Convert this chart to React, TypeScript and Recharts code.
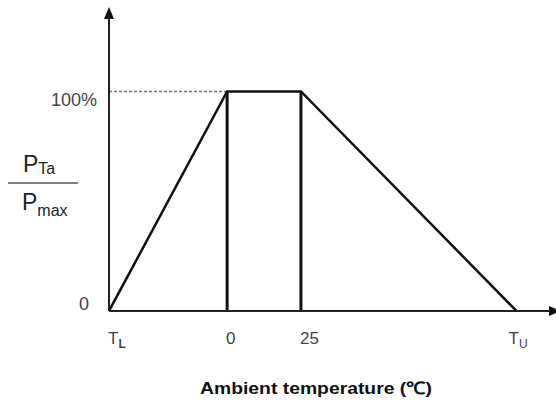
import { LineChart, Line, XAxis, YAxis, ReferenceLine } from 'recharts';

// derating curve (ambient temperature vs P_Ta / P_max, %)
const tempTicks = [-40, 0, 25, 98];
const tempLabels = ['T:L', '0', '25', 'T:U'];
const ratioTicks = [0, 100];
const ratioLabels = ['0', '100%'];
const curveTemp = [-40, 0, 25, 98];
const curveRatio = [0, 100, 100, 0];

const data = curveTemp.map((t, i) => ({ t, r: curveRatio[i] }));

const FONT = '"Liberation Sans", Arial, sans-serif';
const TICK_COLOR = '#444';
const INK = '#111';

const XTick = (props: any) => {
  const { x, y, payload, index } = props;
  const label = tempLabels[tempTicks.indexOf(payload.value)] ?? String(payload.value);
  const [main, sub] = label.split(':');
  const last = index === tempTicks.length - 1;
  return (
    <text
      x={last ? x - 8 : x - 1}
      y={y + 33}
      textAnchor="start"
      fontFamily={FONT}
      fontSize={17}
      fill={TICK_COLOR}
    >
      {main}
      {sub && (
        <tspan dy={4} fontSize={12} fontWeight={last ? 'normal' : 'bold'}>
          {sub}
        </tspan>
      )}
    </text>
  );
};

const YTick = (props: any) => {
  const { y, payload } = props;
  const label = ratioLabels[ratioTicks.indexOf(payload.value)] ?? String(payload.value);
  const top = payload.value === 100;
  return (
    <text
      x={top ? 97 : 89}
      y={top ? y + 15 : y - 1}
      textAnchor="end"
      fontFamily={FONT}
      fontSize={18}
      fill={TICK_COLOR}
    >
      {label}
    </text>
  );
};

const renderFraction = () => (
  <g fontFamily={FONT} fill="#222">
    <text x={23} y={172} fontSize={23}>
      P<tspan fontSize={16} dy={2}>Ta</tspan>
    </text>
    <line x1={8} x2={78} y1={183} y2={183} stroke="#555" strokeWidth={1.5} />
    <text x={22} y={210} fontSize={23}>
      P<tspan fontSize={16} dy={6}>max</tspan>
    </text>
  </g>
);

const renderTempLabel = () => (
  <text
    x={316}
    y={394}
    textAnchor="middle"
    fontFamily={FONT}
    fontSize={17}
    fontWeight="bold"
    fill={INK}
    textLength={232}
    lengthAdjust="spacingAndGlyphs"
  >
    Ambient temperature (℃)
  </text>
);

export default function App() {
  return (
    <div style={{ position: 'absolute', left: 0, top: 0, background: '#fff' }}>
      <LineChart
        width={556}
        height={401}
        data={data}
        margin={{ top: 19, right: 7, bottom: 0, left: 0 }}
      >
        <defs>
          <marker
            id="axisArrow"
            viewBox="0 0 12 10"
            refX={0}
            refY={5}
            markerWidth={12}
            markerHeight={10}
            markerUnits="userSpaceOnUse"
            orient="auto-start-reverse"
          >
            <path d="M0,0 L12,5 L0,10 z" fill={INK} />
          </marker>
        </defs>
        <XAxis
          dataKey="t"
          type="number"
          domain={[-40, 109]}
          ticks={tempTicks}
          interval={0}
          height={90}
          tickLine={false}
          tickSize={0}
          tickMargin={0}
          axisLine={{ stroke: '#222', strokeWidth: 2, markerEnd: 'url(#axisArrow)' }}
          tick={<XTick />}
          label={renderTempLabel}
          allowDataOverflow
        />
        <YAxis
          type="number"
          domain={[0, 133]}
          ticks={ratioTicks}
          interval={0}
          width={109}
          tickLine={false}
          tickSize={0}
          tickMargin={0}
          axisLine={{ stroke: '#222', strokeWidth: 2, markerStart: 'url(#axisArrow)' }}
          tick={<YTick />}
          label={renderFraction}
          allowDataOverflow
        />
        <ReferenceLine
          segment={[
            { x: -40, y: 100 },
            { x: 0, y: 100 },
          ]}
          stroke="#777"
          strokeWidth={1.5}
          strokeDasharray="3 2"
        />
        <ReferenceLine
          segment={[
            { x: 0, y: 0 },
            { x: 0, y: 100 },
          ]}
          stroke={INK}
          strokeWidth={3}
        />
        <ReferenceLine
          segment={[
            { x: 25, y: 0 },
            { x: 25, y: 100 },
          ]}
          stroke={INK}
          strokeWidth={3}
        />
        <Line
          type="linear"
          dataKey="r"
          stroke={INK}
          strokeWidth={2.5}
          dot={false}
          activeDot={false}
          isAnimationActive={false}
        />
      </LineChart>
    </div>
  );
}
